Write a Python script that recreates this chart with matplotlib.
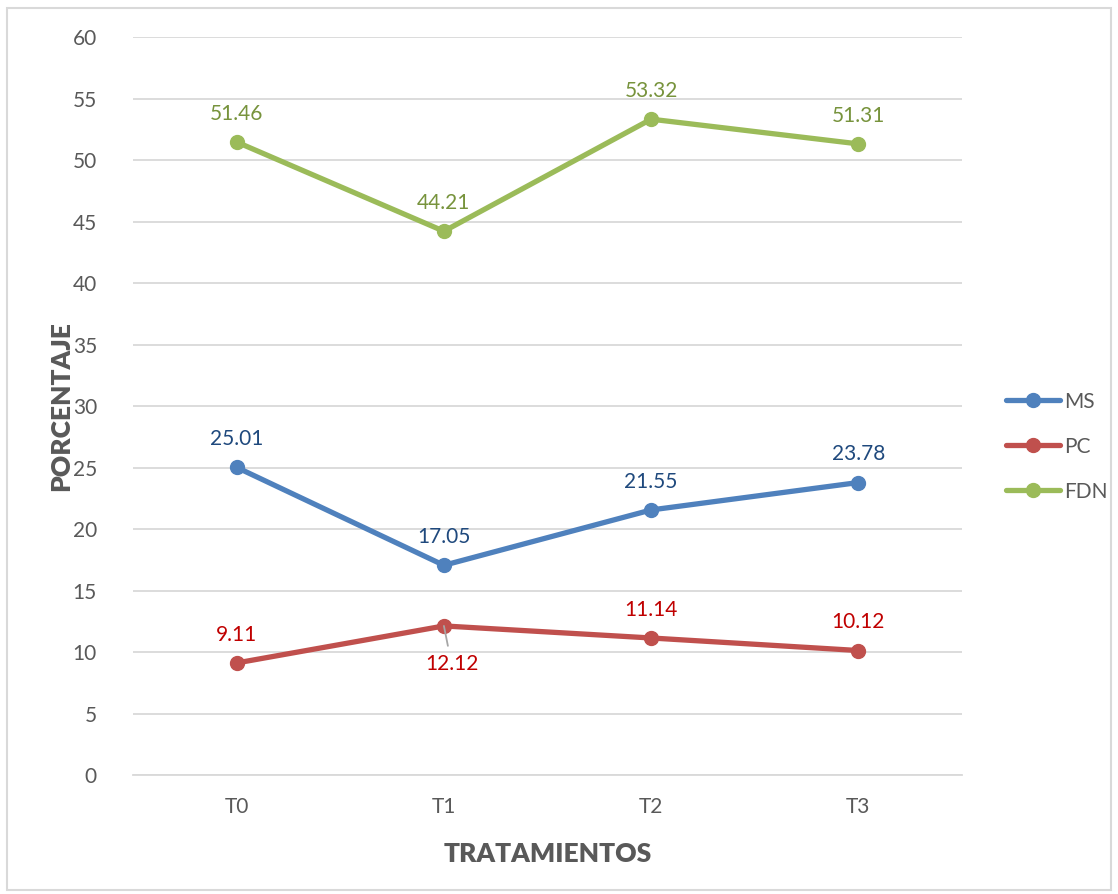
import matplotlib.pyplot as plt
from matplotlib.patches import Rectangle

plt.rcParams['font.family'] = ['Lato', 'DejaVu Sans']

tratamientos = ['T0', 'T1', 'T2', 'T3']
ms = [25.01, 17.05, 21.55, 23.78]
pc = [9.11, 12.12, 11.14, 10.12]
fdn = [51.46, 44.21, 53.32, 51.31]

series = [
    ('MS', ms, '#4F81BD', '#1F497D'),
    ('PC', pc, '#C0504D', '#C00000'),
    ('FDN', fdn, '#9BBB59', '#77933C'),
]

fig = plt.figure(figsize=(11.18, 8.94), dpi=100)
ax = fig.add_axes([0.119, 0.1331, 0.7415, 0.8255])

x = list(range(len(tratamientos)))
for name, vals, color, lblcolor in series:
    ax.plot(x, vals, color=color, lw=3.8, marker='o', markersize=10,
            label=name, solid_capstyle='round', zorder=3)
    for i, v in enumerate(vals):
        if name == 'PC' and i == 1:
            # label below the point with a small leader line
            ax.annotate(f'{v:.2f}', xy=(i, v), xytext=(i + 0.04, v - 3.1),
                        ha='center', va='center', fontsize=15, color=lblcolor,
                        zorder=4,
                        arrowprops=dict(arrowstyle='-', color='#A6A6A6', lw=1.3,
                                        relpos=(0.45, 1.0), shrinkA=4, shrinkB=0))
        else:
            ax.text(i, v + 2.3, f'{v:.2f}', ha='center', va='center',
                    fontsize=15, color=lblcolor)

ax.set_xlim(-0.5, 3.5)
ax.set_ylim(0, 60)
ax.set_yticks(range(0, 61, 5))
ax.set_xticks(x)
ax.set_xticklabels(tratamientos)
ax.grid(axis='y', color='#D9D9D9', lw=1.3)
ax.set_axisbelow(True)
for s in ['top', 'right', 'left']:
    ax.spines[s].set_visible(False)
ax.spines['bottom'].set_color('#D9D9D9')
ax.spines['bottom'].set_linewidth(1.3)
ax.tick_params(length=0, labelsize=15, colors='#595959')
ax.tick_params(axis='y', pad=26)
ax.tick_params(axis='x', pad=16)

ax.set_xlabel('TRATAMIENTOS', fontsize=19, fontweight='heavy', color='#595959', labelpad=18)
ax.set_ylabel('PORCENTAJE', fontsize=19, fontweight='heavy', color='#595959', labelpad=0)

leg = ax.legend(loc='center left', bbox_to_anchor=(1.03, 0.445), frameon=False,
                fontsize=15, labelcolor='#595959', handlelength=2.6,
                handletextpad=0.2, labelspacing=1.2)

fig.patches.append(Rectangle((0.006, 0.005), 0.988, 0.986, transform=fig.transFigure,
                             fill=False, edgecolor='#D9D9D9', lw=1.5))

fig.savefig('out.png', dpi=100)
